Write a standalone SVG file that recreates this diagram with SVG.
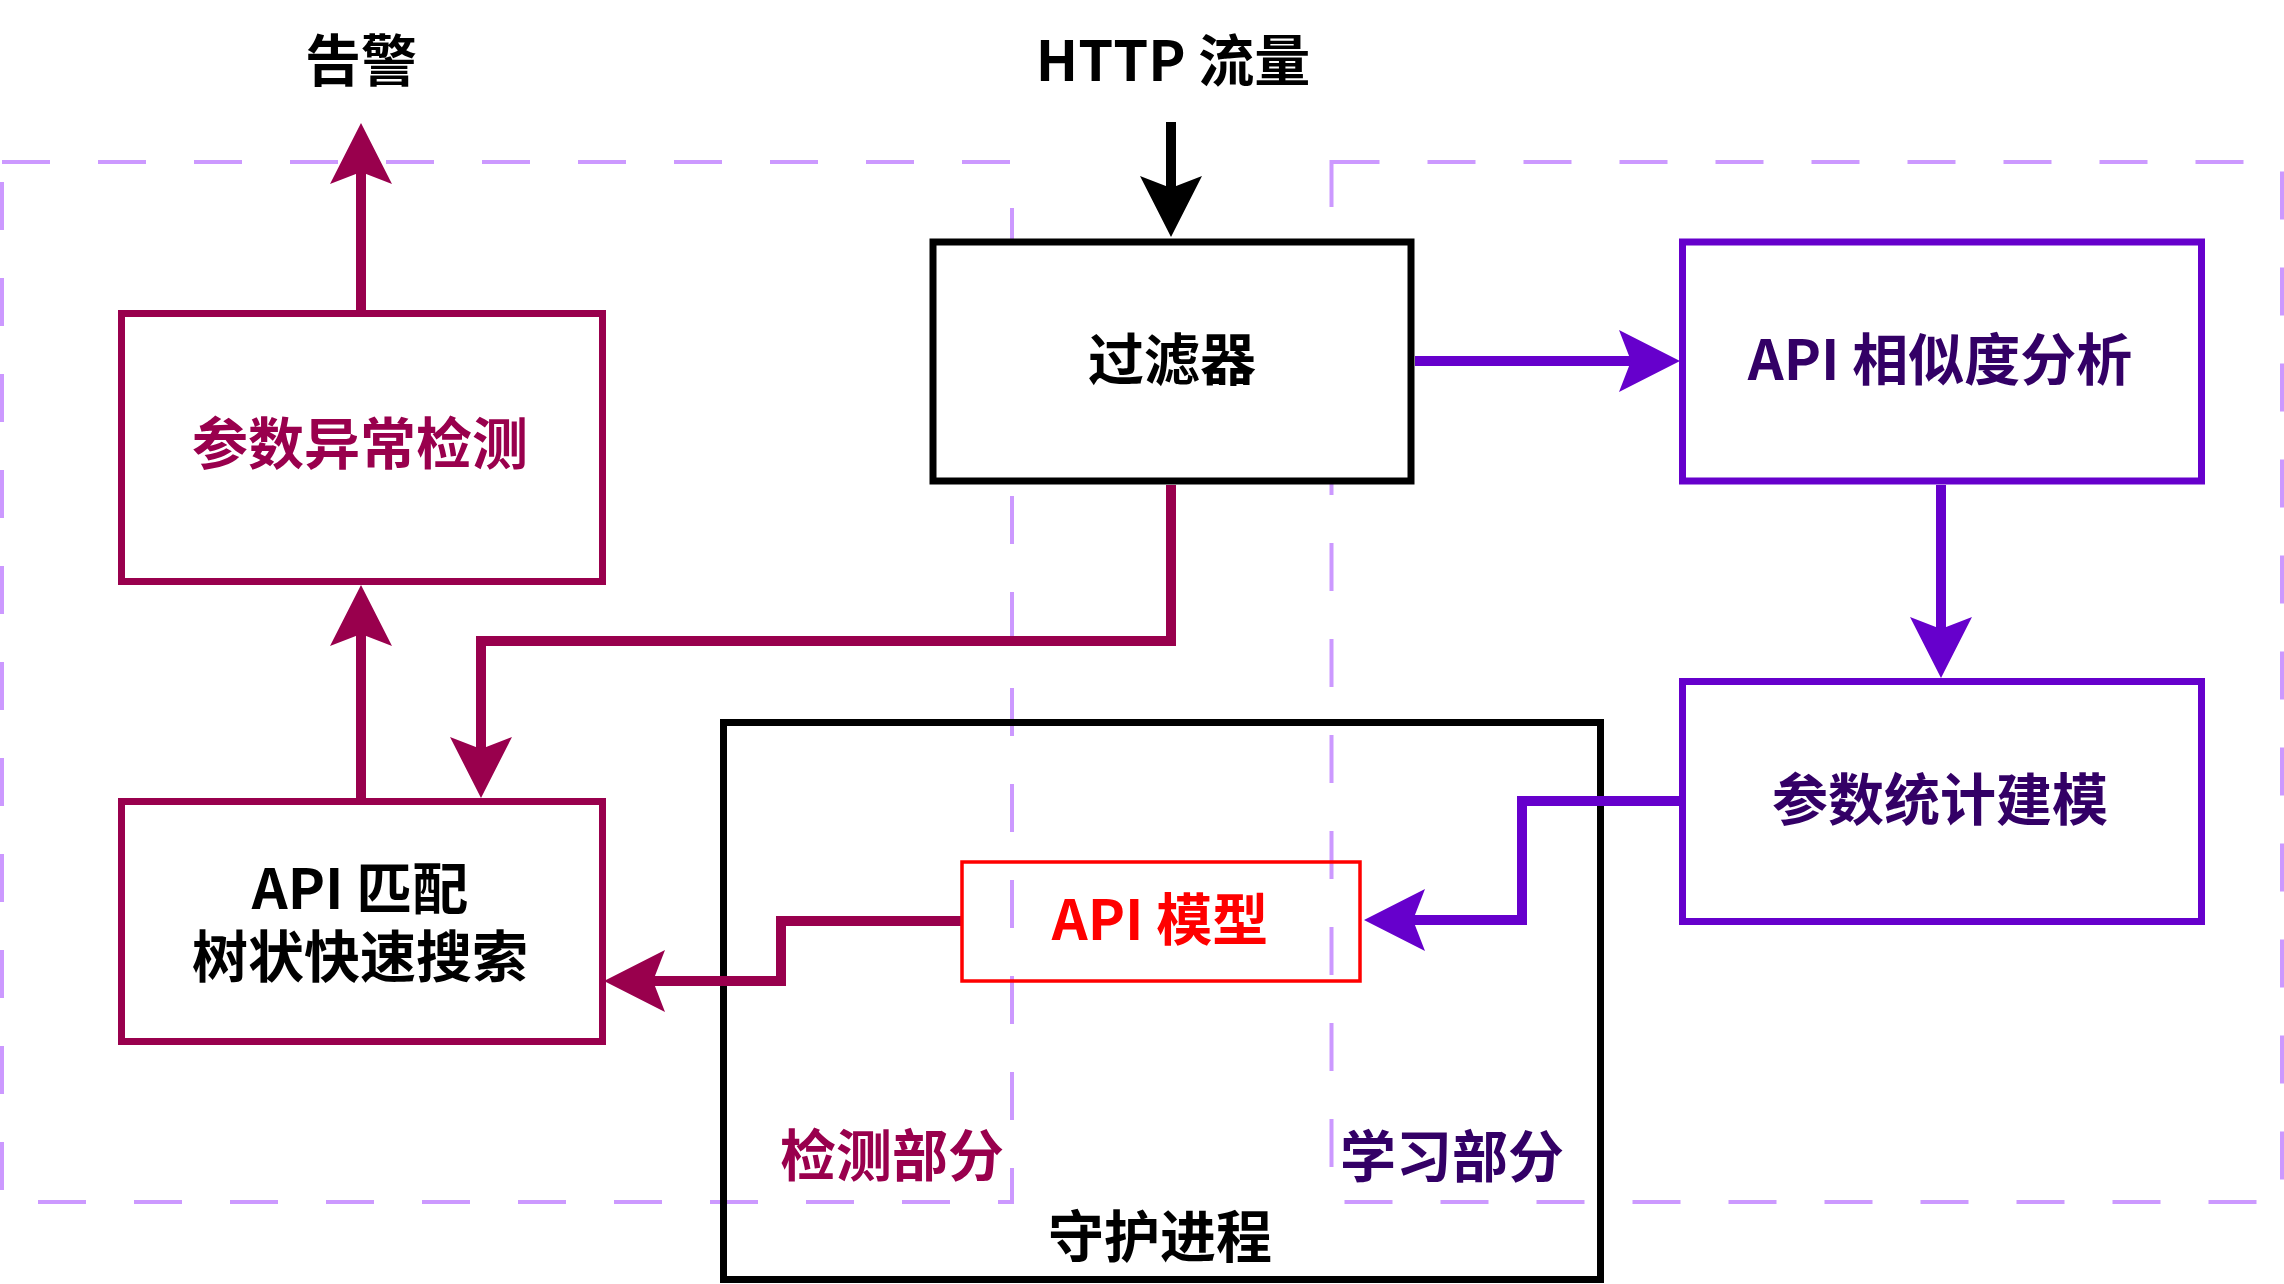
<svg xmlns="http://www.w3.org/2000/svg" width="2284" height="1284" viewBox="0 0 2284 1284">
<style>
text{font-family:"Noto Sans CJK SC","Liberation Sans",sans-serif;font-weight:bold;font-size:56px;text-anchor:middle}
.region{fill:none;stroke:#cc99ff;stroke-width:4;stroke-dasharray:48 48}
.box{fill:#ffffff;stroke-width:7}
.m{stroke:#99004d}
.p{stroke:#6600cc}
.k{stroke:#000000}
.conn{fill:none;stroke-width:10;stroke-linejoin:miter}
</style>
<defs>
<marker id="ah-m" markerUnits="userSpaceOnUse" orient="auto" markerWidth="80" markerHeight="80" refX="0" refY="0" overflow="visible"><path d="M49,0 L-12,-31 L0,0 L-12,31 Z" fill="#99004d"/></marker>
<marker id="ah-p" markerUnits="userSpaceOnUse" orient="auto" markerWidth="80" markerHeight="80" refX="0" refY="0" overflow="visible"><path d="M49,0 L-12,-31 L0,0 L-12,31 Z" fill="#6600cc"/></marker>
<marker id="ah-k" markerUnits="userSpaceOnUse" orient="auto" markerWidth="80" markerHeight="80" refX="0" refY="0" overflow="visible"><path d="M49,0 L-12,-31 L0,0 L-12,31 Z" fill="#000000"/></marker>
</defs>
<rect width="2284" height="1284" fill="#ffffff"/>
<g id="region-detect">
<rect class="region" x="2" y="162" width="1010" height="1040"/>
<text x="892" y="1176" fill="#99004d">检测部分</text>
</g>
<g id="region-learn">
<rect class="region" x="1331.5" y="162" width="950.5" height="1040"/>
<text x="1452" y="1177" fill="#330066">学习部分</text>
</g>
<g id="label-alert"><text x="361" y="81" fill="#000000">告警</text></g>
<g id="label-http"><text x="1173" y="81" fill="#000000">HTTP 流量</text></g>
<g id="guard">
<rect x="723.5" y="722.5" width="877" height="557" fill="none" stroke="#000000" stroke-width="7"/>
<text x="1160" y="1257" fill="#000000">守护进程</text>
</g>
<g id="anomaly">
<rect class="box m" x="121.5" y="313.5" width="481" height="268"/>
<text x="360" y="464" fill="#99004d">参数异常检测</text>
</g>
<g id="match">
<rect class="box m" x="121.5" y="801.5" width="481" height="240"/>
<text x="360" y="909" fill="#000000">API 匹配</text>
<text x="360" y="977" fill="#000000">树状快速搜索</text>
</g>
<g id="filter">
<rect class="box k" x="933" y="242" width="478" height="239" stroke-width="8"/>
<text x="1172" y="380" fill="#000000">过滤器</text>
</g>
<g id="similar">
<rect class="box p" x="1682.5" y="242" width="519" height="239"/>
<text x="1940" y="380" fill="#330066">API 相似度分析</text>
</g>
<g id="stat">
<rect class="box p" x="1682.5" y="681.5" width="519" height="240"/>
<text x="1940" y="820" fill="#330066">参数统计建模</text>
</g>
<g id="connectors">
<path class="conn k" d="M1171,122 V188" marker-end="url(#ah-k)"/>
<path class="conn m" d="M361,310 V172" marker-end="url(#ah-m)"/>
<path class="conn m" d="M361,798 V634" marker-end="url(#ah-m)"/>
<path class="conn m" d="M1171,485 V641 H481 V749" marker-end="url(#ah-m)"/>
<path class="conn m" d="M961,921 H781 V981 H653" marker-end="url(#ah-m)"/>
<path class="conn p" d="M1415,361 H1631" marker-end="url(#ah-p)"/>
<path class="conn p" d="M1941,485 V629" marker-end="url(#ah-p)"/>
<path class="conn p" d="M1679,801 H1522 V920 H1413" marker-end="url(#ah-p)"/>
</g>
<g id="model">
<rect x="962" y="862" width="398" height="119" fill="none" stroke="#ff0000" stroke-width="3.5"/>
<text x="1160" y="940" fill="#ff0000">API 模型</text>
</g>
</svg>
